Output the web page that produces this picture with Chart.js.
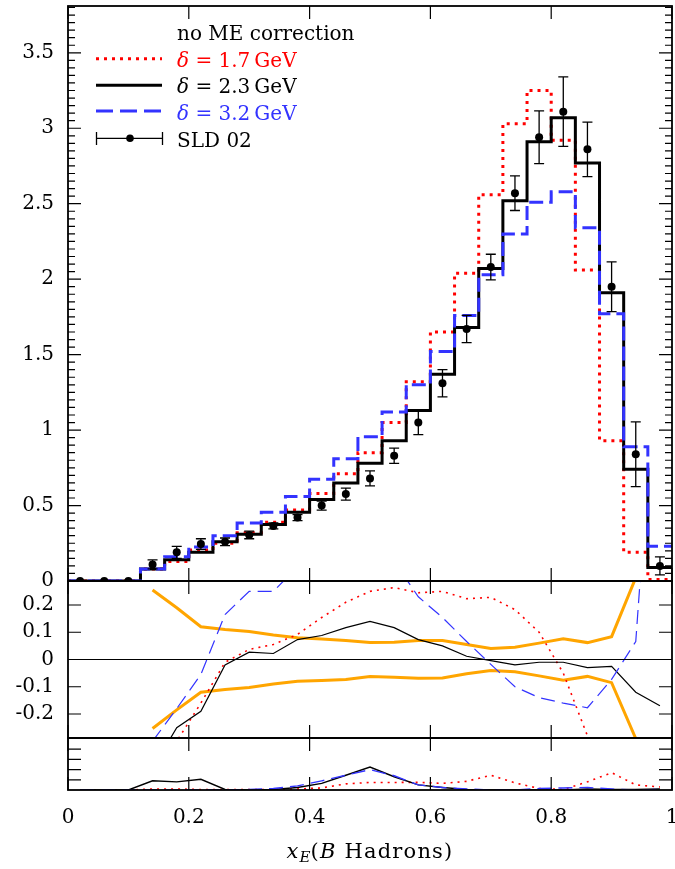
<!DOCTYPE html>
<html>
<head>
<meta charset="utf-8">
<script src="https://cdn.jsdelivr.net/npm/chart.js@4.4.0/dist/chart.umd.min.js"></script>
<style>
  body { margin: 0; background: #fff; width: 675px; height: 869px; overflow: hidden; position: relative;
         font-family: "DejaVu Serif", serif; }
  canvas { position: absolute; left: 0; }
  #mainChart { top: 0; }
  #ratioChart { top: 560px; }
  #chiChart { top: 730px; }
  .leg { position: absolute; left: 177px; font-size: 20px; line-height: 24px; white-space: nowrap; }
  #legendLines { position: absolute; left: 0; top: 0; }
  #xTitle { position: absolute; left: 220px; width: 300px; top: 838px; text-align: center;
            font-size: 21px; line-height: 26px; letter-spacing: 1.2px; white-space: nowrap; }
  #xTitle sub { font-size: 15px; vertical-align: -4px; line-height: 0; letter-spacing: 0; }
</style>
</head>
<body>
<canvas id="mainChart" width="675" height="600"></canvas>
<canvas id="ratioChart" width="675" height="200"></canvas>
<canvas id="chiChart" width="675" height="139"></canvas>

<svg id="legendLines" width="200" height="160">
  <line x1="96" y1="58.7" x2="162" y2="58.7" stroke="#ff0000" stroke-width="3" stroke-dasharray="3 5"/>
  <line x1="96" y1="85.3" x2="162" y2="85.3" stroke="#000" stroke-width="3"/>
  <line x1="96" y1="111" x2="162" y2="111" stroke="#3333ff" stroke-width="3" stroke-dasharray="17 7"/>
  <line x1="96" y1="138.3" x2="163" y2="138.3" stroke="#000" stroke-width="1.3"/>
  <line x1="96.5" y1="132" x2="96.5" y2="145" stroke="#000" stroke-width="1.3"/>
  <line x1="162.5" y1="132" x2="162.5" y2="145" stroke="#000" stroke-width="1.3"/>
  <circle cx="130" cy="138.3" r="3.8" fill="#000"/>
</svg>
<div class="leg" style="top:21px;color:#000">no ME correction</div>
<div class="leg" style="top:48px;color:#ff0000"><i>δ</i> = 1.7&#8201;GeV</div>
<div class="leg" style="top:74px;color:#000"><i>δ</i> = 2.3&#8201;GeV</div>
<div class="leg" style="top:101px;color:#3333ff"><i>δ</i> = 3.2&#8201;GeV</div>
<div class="leg" style="top:128px;color:#000">SLD 02</div>
<div id="xTitle"><i>x</i><sub><i>E</i></sub>(<i>B</i> Hadrons)</div>

<script>
// ---------------- DATA ----------------
const binCenters = [0.02, 0.06, 0.10, 0.14, 0.18, 0.22, 0.26, 0.30, 0.34, 0.38, 0.42, 0.46, 0.50,
                    0.54, 0.58, 0.62, 0.66, 0.70, 0.74, 0.78, 0.82, 0.86, 0.90, 0.94, 0.98];
const binWidth = 0.04;

// main panel: normalised distribution
const delta17 = [0, 0, 0, 0.08, 0.13, 0.205, 0.25, 0.32, 0.39, 0.47, 0.58, 0.71, 0.85,
                 1.05, 1.32, 1.65, 2.04, 2.56, 3.03, 3.25, 2.92, 2.06, 0.93, 0.19, 0.01];
const delta23 = [0, 0, 0, 0.08, 0.14, 0.19, 0.26, 0.31, 0.375, 0.455, 0.54, 0.65, 0.78,
                 0.93, 1.13, 1.37, 1.68, 2.07, 2.52, 2.91, 3.07, 2.77, 1.91, 0.74, 0.09];
const delta32 = [0, 0, 0, 0.08, 0.16, 0.225, 0.30, 0.385, 0.455, 0.56, 0.675, 0.81, 0.955,
                 1.12, 1.30, 1.52, 1.76, 2.03, 2.30, 2.51, 2.58, 2.34, 1.77, 0.89, 0.23];
const sld02 = [0, 0, 0, 0.11, 0.19, 0.245, 0.26, 0.305, 0.365, 0.42, 0.50, 0.576, 0.68,
               0.83, 1.05, 1.31, 1.67, 2.08, 2.57, 2.94, 3.11, 2.86, 1.95, 0.84, 0.10];
const sld02Err = [0, 0, 0, 0.03, 0.04, 0.035, 0.025, 0.025, 0.02, 0.02, 0.03, 0.04, 0.05,
                  0.05, 0.08, 0.09, 0.09, 0.085, 0.115, 0.175, 0.23, 0.18, 0.165, 0.215, 0.06];

// ratio panel: (MC - data) / data and data error band
const bandUp = [null, null, null, 0.255, 0.19, 0.12, 0.11, 0.103, 0.09, 0.08, 0.075, 0.07, 0.062,
                0.063, 0.07, 0.07, 0.055, 0.04, 0.045, 0.06, 0.076, 0.062, 0.084, 0.30, null];
const bandLo = [null, null, null, -0.253, -0.185, -0.12, -0.11, -0.103, -0.09, -0.08, -0.077, -0.073, -0.062,
                -0.065, -0.069, -0.068, -0.052, -0.04, -0.045, -0.06, -0.076, -0.062, -0.085, -0.29, null];
const ratio17 = [null, null, null, -0.5, -0.30, -0.16, -0.01, 0.037, 0.055, 0.092, 0.154, 0.21, 0.25,
                 0.264, 0.245, 0.25, 0.223, 0.228, 0.183, 0.10, -0.05, -0.28, -0.52, -0.77, -0.9];
const ratio23 = [null, null, null, -0.4, -0.25, -0.19, -0.02, 0.027, 0.022, 0.073, 0.088, 0.117, 0.14,
                 0.117, 0.073, 0.05, 0.012, -0.004, -0.02, -0.01, -0.01, -0.03, -0.025, -0.12, -0.17];
const ratio32 = [null, null, null, -0.3, -0.18, -0.055, 0.165, 0.25, 0.25, 0.34, 0.36, 0.41, 0.40,
                 0.36, 0.23, 0.154, 0.066, -0.018, -0.10, -0.14, -0.16, -0.177, -0.073, 0.066, 1.3];

// bottom panel: chi^2 contribution per bin
const chi17 = [0, 0, 0, 0.1, 0.1, 0.05, 0.05, 0.05, 0.05, 0.1, 0.2, 0.6, 0.74,
               0.74, 0.75, 0.65, 0.85, 1.45, 0.7, 0.15, 0.05, 0.8, 1.7, 0.5, 0.3];
const chi23 = [0, 0, 0, 0.9, 0.8, 1.05, 0.05, 0, 0.05, 0.25, 0.65, 1.45, 2.25,
               1.3, 0.5, 0.25, 0.05, 0, 0, 0, 0, 0.1, 0.05, 0.05, 0.1];
const chi32 = [0, 0, 0, 0, 0, 0, 0, 0.05, 0.15, 0.4, 0.9, 1.45, 2.0,
               1.4, 0.5, 0.25, 0.1, 0, 0, 0.15, 0.2, 0.25, 0.1, 0, 0.05];

// tick labels
const xTicks = [0, 0.2, 0.4, 0.6, 0.8, 1];
const mainYTicks = [0, 0.5, 1, 1.5, 2, 2.5, 3, 3.5];
const ratioYTicks = [-0.2, -0.1, 0, 0.1, 0.2];
const chiYTicks = [1, 2, 3, 4];

// ---------------- HELPERS ----------------
const RED = "#ff0000", BLUE = "#3333ff", ORANGE = "#ffa500";
Chart.defaults.font.family = '"DejaVu Serif", serif';
Chart.defaults.font.size = 20;
Chart.defaults.color = "#000";

function histPoints(values) {
  const pts = values.map((v, i) => ({ x: binCenters[i] - binWidth / 2, y: v }));
  pts.push({ x: binCenters[binCenters.length - 1] + binWidth / 2, y: values[values.length - 1] });
  return pts;
}
function linePoints(values) {
  return values.map((v, i) => ({ x: binCenters[i], y: v }));
}

// frame with inward ticks on all four sides
function framePlugin(cfg) {
  return {
    id: "frame",
    afterDatasetsDraw(chart) {
      const { ctx, chartArea: a, scales } = chart;
      const xs = scales.x, ys = scales.y;
      ctx.save();
      ctx.strokeStyle = "#000";
      ctx.lineWidth = 1.2;
      ctx.beginPath();
      xTicks.forEach(v => {
        const px = xs.getPixelForValue(v);
        ctx.moveTo(px, a.top); ctx.lineTo(px, a.top + 13);
        ctx.moveTo(px, a.bottom); ctx.lineTo(px, a.bottom - 13);
      });
      const yTick = (v, len) => {
        const py = ys.getPixelForValue(v);
        ctx.moveTo(a.left, py); ctx.lineTo(a.left + len, py);
        ctx.moveTo(a.right, py); ctx.lineTo(a.right - len, py);
      };
      cfg.major.forEach(v => yTick(v, 13));
      (cfg.minor || []).forEach(v => yTick(v, 7));
      ctx.stroke();
      if (cfg.zeroLine) {
        const p0 = ys.getPixelForValue(0);
        ctx.lineWidth = 1;
        ctx.beginPath(); ctx.moveTo(a.left, p0); ctx.lineTo(a.right, p0); ctx.stroke();
      }
      ctx.lineWidth = 1.8;
      ctx.strokeRect(a.left, a.top, a.right - a.left, a.bottom - a.top);
      ctx.restore();
    }
  };
}

const errorBarPlugin = {
  id: "errorBars",
  afterDatasetsDraw(chart) {
    const { ctx, scales } = chart;
    ctx.save();
    ctx.strokeStyle = "#000";
    ctx.lineWidth = 1.3;
    ctx.beginPath();
    sld02.forEach((v, i) => {
      const e = sld02Err[i];
      if (!e) return;
      const px = scales.x.getPixelForValue(binCenters[i]);
      const top = scales.y.getPixelForValue(v + e);
      const bot = scales.y.getPixelForValue(v - e);
      ctx.moveTo(px, top); ctx.lineTo(px, bot);
      ctx.moveTo(px - 5, top); ctx.lineTo(px + 5, top);
      ctx.moveTo(px - 5, bot); ctx.lineTo(px + 5, bot);
    });
    ctx.stroke();
    ctx.restore();
  }
};

const yAxisFit = s => { s.width = 68; s.paddingTop = 0; s.paddingBottom = 0; };
const labelOf = v => String(v);

function xScale(showLabels) {
  return {
    type: "linear", min: 0, max: 1, display: showLabels,
    afterBuildTicks: s => { s.ticks = xTicks.map(v => ({ value: v })); },
    afterFit: s => { s.height = showLabels ? 79 : 0; s.paddingLeft = 0; s.paddingRight = 0; },
    grid: { display: false, drawTicks: false },
    border: { display: false },
    ticks: { padding: 16, callback: labelOf, maxRotation: 0 }
  };
}

function baseOptions(padding) {
  return {
    responsive: false,
    animation: false,
    layout: { padding: padding, autoPadding: false },
    plugins: { legend: { display: false }, tooltip: { enabled: false } }
  };
}

// ---------------- MAIN PANEL ----------------
const mainMinor = [];
for (let k = 1; k * 0.05 < 3.81; k++) if (k % 10) mainMinor.push(k * 0.05);

new Chart(document.getElementById("mainChart"), {
  type: "line",
  data: {
    datasets: [
      { label: "δ = 1.7 GeV", data: histPoints(delta17), stepped: "before", borderColor: RED,
        borderWidth: 3, borderDash: [3, 5], pointRadius: 0, order: 4 },
      { label: "δ = 2.3 GeV", data: histPoints(delta23), stepped: "before", borderColor: "#000",
        borderWidth: 3, pointRadius: 0, order: 3 },
      { label: "δ = 3.2 GeV", data: histPoints(delta32), stepped: "before", borderColor: BLUE,
        borderWidth: 3, borderDash: [14, 6], pointRadius: 0, order: 2 },
      { label: "SLD 02", data: linePoints(sld02), showLine: false, pointRadius: 4,
        pointBackgroundColor: "#000", pointBorderWidth: 0, order: 1 }
    ]
  },
  options: Object.assign(baseOptions({ top: 6, right: 3, bottom: 19, left: 0 }), {
    elements: { line: { borderJoinStyle: "miter", fill: false } },
    scales: {
      x: xScale(false),
      y: {
        type: "linear", min: 0, max: 3.81,
        afterBuildTicks: s => { s.ticks = mainYTicks.map(v => ({ value: v })); },
        afterFit: yAxisFit,
        grid: { display: false, drawTicks: false },
        border: { display: false },
        ticks: { padding: 14, callback: labelOf }
      }
    }
  }),
  plugins: [framePlugin({ major: mainYTicks, minor: mainMinor }), errorBarPlugin]
});

// ---------------- RATIO PANEL ----------------
new Chart(document.getElementById("ratioChart"), {
  type: "line",
  data: {
    datasets: [
      { data: linePoints(bandUp), borderColor: ORANGE, borderWidth: 3, order: 5 },
      { data: linePoints(bandLo), borderColor: ORANGE, borderWidth: 3, order: 5 },
      { data: linePoints(ratio17), borderColor: RED, borderWidth: 1.6, borderDash: [2, 5], order: 3 },
      { data: linePoints(ratio23), borderColor: "#000", borderWidth: 1.2, order: 2 },
      { data: linePoints(ratio32), borderColor: BLUE, borderWidth: 1.2, borderDash: [14, 7], order: 1 }
    ]
  },
  options: Object.assign(baseOptions({ top: 21, right: 3, bottom: 22, left: 0 }), {
    elements: { point: { radius: 0 }, line: { fill: false } },
    datasets: { line: { clip: 0 } },
    scales: {
      x: xScale(false),
      y: {
        type: "linear", min: -0.288, max: 0.288,
        afterBuildTicks: s => { s.ticks = ratioYTicks.map(v => ({ value: v })); },
        afterFit: yAxisFit,
        grid: { display: false, drawTicks: false },
        border: { display: false },
        ticks: { padding: 14, callback: labelOf }
      }
    }
  }),
  plugins: [framePlugin({ major: ratioYTicks, zeroLine: true })]
});

// ---------------- CHI2 PANEL ----------------
new Chart(document.getElementById("chiChart"), {
  type: "line",
  data: {
    datasets: [
      { data: linePoints(chi17), borderColor: RED, borderWidth: 1.6, borderDash: [2, 5], order: 3 },
      { data: linePoints(chi23), borderColor: "#000", borderWidth: 1.4, order: 2 },
      { data: linePoints(chi32), borderColor: BLUE, borderWidth: 1.4, borderDash: [14, 7], order: 1 }
    ]
  },
  options: Object.assign(baseOptions({ top: 8, right: 3, bottom: 0, left: 0 }), {
    elements: { point: { radius: 0 }, line: { fill: false } },
    scales: {
      x: xScale(true),
      y: {
        type: "linear", min: 0, max: 5.1,
        afterBuildTicks: s => { s.ticks = chiYTicks.map(v => ({ value: v })); },
        afterFit: yAxisFit,
        grid: { display: false, drawTicks: false },
        border: { display: false },
        ticks: { display: false }
      }
    }
  }),
  plugins: [framePlugin({ major: chiYTicks })]
});
</script>
</body>
</html>
